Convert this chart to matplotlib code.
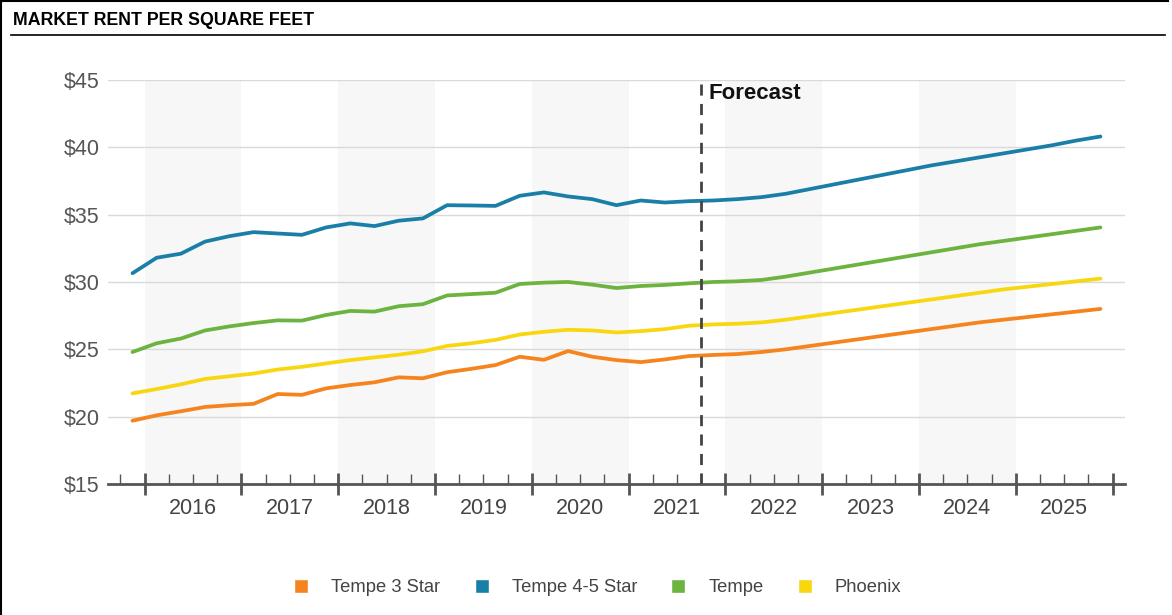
import numpy as np
import matplotlib.pyplot as plt
from matplotlib.lines import Line2D

plt.rcParams['font.family'] = ['Liberation Sans', 'DejaVu Sans']

# quarterly market rent, 2015 Q4 .. 2025 Q4 (forecast from 2021 Q4)
quarters = [f'{y} Q{q}' for y in range(2015, 2026) for q in range(1, 5)][3:]
tempe_3_star = [19.7, 20.1, 20.4, 20.72, 20.85, 20.95, 21.68, 21.62, 22.1, 22.35,
                22.55, 22.92, 22.85, 23.3, 23.55, 23.83, 24.45, 24.22, 24.87, 24.45,
                24.2, 24.05, 24.25, 24.5, 24.58, 24.65, 24.8, 25.0, 25.25, 25.5,
                25.75, 26.0, 26.25, 26.5, 26.75, 27.0, 27.2, 27.4, 27.6, 27.8, 28.0]
tempe_45_star = [30.65, 31.8, 32.1, 33.0, 33.4, 33.7, 33.6, 33.5, 34.05, 34.35,
                 34.15, 34.55, 34.72, 35.7, 35.68, 35.65, 36.4, 36.65, 36.35, 36.15,
                 35.7, 36.05, 35.9, 36.0, 36.05, 36.15, 36.3, 36.55, 36.9, 37.25,
                 37.6, 37.95, 38.3, 38.65, 38.95, 39.25, 39.55, 39.85, 40.15, 40.5, 40.8]
tempe = [24.8, 25.45, 25.8, 26.4, 26.7, 26.95, 27.15, 27.13, 27.55, 27.85,
         27.8, 28.2, 28.35, 29.0, 29.1, 29.2, 29.85, 29.95, 30.0, 29.8,
         29.55, 29.7, 29.78, 29.9, 30.0, 30.05, 30.15, 30.4, 30.7, 31.0,
         31.3, 31.6, 31.9, 32.2, 32.5, 32.8, 33.05, 33.3, 33.55, 33.8, 34.05]
phoenix = [21.73, 22.05, 22.4, 22.8, 23.0, 23.2, 23.5, 23.7, 23.95, 24.2,
           24.4, 24.6, 24.85, 25.25, 25.45, 25.7, 26.1, 26.3, 26.45, 26.4,
           26.25, 26.35, 26.5, 26.75, 26.85, 26.9, 27.0, 27.2, 27.45, 27.7,
           27.95, 28.2, 28.45, 28.7, 28.95, 29.2, 29.45, 29.65, 29.85, 30.05, 30.25]

series = [('Tempe 3 Star', tempe_3_star, '#f5841f'),
          ('Tempe 4-5 Star', tempe_45_star, '#1a7fa6'),
          ('Tempe', tempe, '#6cb33f'),
          ('Phoenix', phoenix, '#f8d711')]

years = list(range(2016, 2026))
forecast_start = '2021 Q4'
y_ticks = [15, 20, 25, 30, 35, 40, 45]


def quarter_pos(label):
    y, q = label.split(' Q')
    return int(y) + (int(q) - 0.5) / 4


x = np.array([quarter_pos(q) for q in quarters])

fig = plt.figure(figsize=(11.72, 6.15), dpi=100)
ax = fig.add_axes([0.092, 0.213, 0.868, 0.657])

# faint alternating year bands
for yr in years[::2]:
    ax.axvspan(yr, yr + 1, color='#f7f7f7', zorder=0, lw=0)

for val in y_ticks[1:]:
    ax.axhline(val, color='#d9d9d9', lw=1, zorder=1)

for name, vals, col in series:
    ax.plot(x, vals, color=col, lw=2.7, zorder=3, solid_capstyle='round')

fx = quarter_pos(forecast_start) - 0.125
ax.axvline(fx, color='#444444', lw=2, dashes=(4, 3), zorder=4)
ax.text(fx + 0.08, 44.8, 'Forecast', fontsize=16, fontweight='bold',
        va='top', ha='left', color='#111111')

ax.set_xlim(2015.62, 2026.13)
ax.set_ylim(15, 45)
ax.set_yticks(y_ticks)
ax.set_yticklabels([f'${v}' for v in y_ticks], fontsize=15.5, color='#555555')
ax.tick_params(axis='y', length=0, pad=6)

ax.set_xticks(years + [2026])
ax.set_xticklabels([])
ax.set_xticks(np.arange(2015.75, 2026.1, 0.25), minor=True)
ax.tick_params(axis='x', which='major', direction='inout', length=16,
               width=2, color='#555555')
ax.tick_params(axis='x', which='minor', direction='in', length=7,
               width=1, color='#555555')
for yr in years:
    ax.text(yr + 0.5, 13.15, str(yr), fontsize=15.5,
            color='#444444', ha='center', va='center')

for side in ['top', 'right', 'left']:
    ax.spines[side].set_visible(False)
ax.spines['bottom'].set_color('#555555')
ax.spines['bottom'].set_linewidth(2)

# header and frame
fig.text(0.011, 0.967, 'MARKET RENT PER SQUARE FEET', fontsize=12.8,
         fontweight='bold', va='center', ha='left')
fig.add_artist(Line2D([0.009, 0.994], [0.943, 0.943], color='black', lw=1.2))
fig.add_artist(Line2D([0.001, 0.001], [0, 1], color='black', lw=1.5))
fig.add_artist(Line2D([0, 0.997], [0.999, 0.999], color='black', lw=1.5))

handles = [Line2D([0], [0], marker='s', color='w', markerfacecolor=c,
                  markersize=10, label=n) for n, _, c in series]
fig.legend(handles=handles, loc='center', bbox_to_anchor=(0.510, 0.044),
           ncol=4, frameon=False, fontsize=13.2, columnspacing=1.84,
           handlelength=0.8, handletextpad=1.24, labelcolor='#444444')

fig.savefig('out.png', dpi=100)
